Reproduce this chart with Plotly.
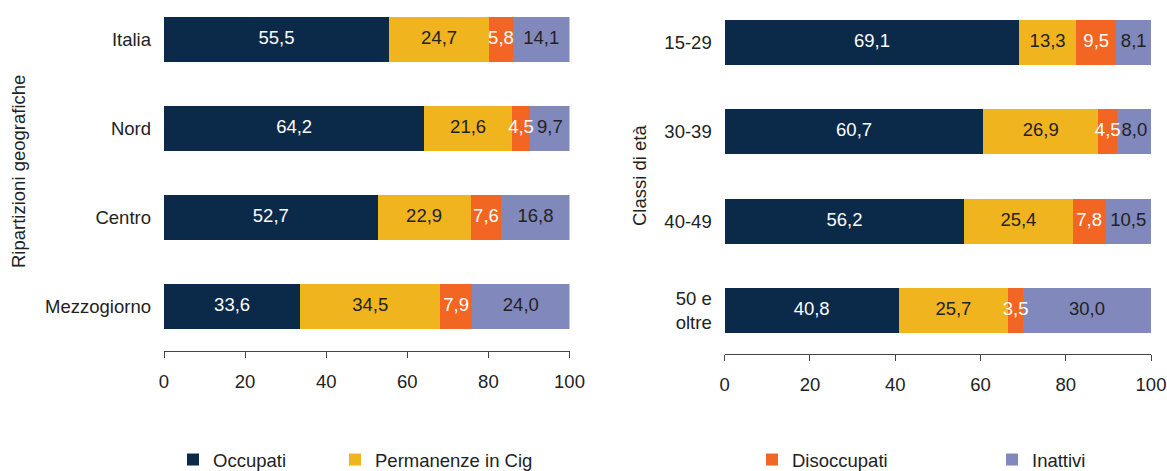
import plotly.graph_objects as go

# ---- data ----
series_names = ["Occupati", "Permanenze in Cig", "Disoccupati", "Inattivi"]
series_colors = ["#0b2949", "#f0b41f", "#f26522", "#8188bb"]
text_colors = ["#ffffff", "#222222", "#ffffff", "#222222"]

regions = ["Italia", "Nord", "Centro", "Mezzogiorno"]
region_occupati = [55.5, 64.2, 52.7, 33.6]
region_cig = [24.7, 21.6, 22.9, 34.5]
region_disoccupati = [5.8, 4.5, 7.6, 7.9]
region_inattivi = [14.1, 9.7, 16.8, 24.0]

ages = ["15-29", "30-39", "40-49", "50 e<br>oltre"]
age_occupati = [69.1, 60.7, 56.2, 40.8]
age_cig = [13.3, 26.9, 25.4, 25.7]
age_disoccupati = [9.5, 4.5, 7.8, 3.5]
age_inattivi = [8.1, 8.0, 10.5, 30.0]

x_ticks = [0, 20, 40, 60, 80, 100]

region_series = [region_occupati, region_cig, region_disoccupati, region_inattivi]
age_series = [age_occupati, age_cig, age_disoccupati, age_inattivi]


def fmt(v):
    return f"{v:.1f}".replace(".", ",")


FONT = "Liberation Sans, Arial, sans-serif"
FS = 18.5
TXT = "#222222"
W, H = 1167, 471


def px(x):  # pixel -> paper fraction
    return x / W


def py(y):
    return 1 - y / H


fig = go.Figure()

legend_ids = ["legend", "legend2", "legend3", "legend4"]
legend_px = [173, 335, 752, 992]


def add_panel(cats, series, xa, ya, show_legend):
    # bars
    for i, name in enumerate(series_names):
        fig.add_trace(go.Bar(
            y=cats, x=series[i], orientation="h", name=name,
            marker=dict(color=series_colors[i], line=dict(width=0)),
            xaxis=xa, yaxis=ya, showlegend=show_legend,
            legend=legend_ids[i], legendgroup=name, hoverinfo="x+y+name",
        ))
    # value labels on top of all bars (midpoint of each stacked segment)
    base = [0.0] * len(cats)
    for i, name in enumerate(series_names):
        mids = [b + v / 2 for b, v in zip(base, series[i])]
        base = [b + v for b, v in zip(base, series[i])]
        fig.add_trace(go.Scatter(
            y=cats, x=mids, mode="text",
            text=[fmt(v) for v in series[i]],
            textposition="middle center",
            textfont=dict(color=text_colors[i], family=FONT, size=FS),
            xaxis=xa, yaxis=ya, showlegend=False, hoverinfo="skip",
            cliponaxis=False,
        ))


add_panel(regions, region_series, "x", "y", True)
add_panel(ages, age_series, "x2", "y2", False)

xcommon = dict(
    range=[0, 100], tickvals=x_ticks, ticktext=[str(t) for t in x_ticks],
    showline=True, linecolor="#444444", linewidth=1,
    ticks="outside", ticklen=6, tickcolor="#444444", tickwidth=1,
    showgrid=False, zeroline=False, fixedrange=True, automargin=False,
    tickfont=dict(family=FONT, size=FS, color=TXT),
    ticklabelstandoff=8,
)
ycommon = dict(
    type="category",
    showline=False, showgrid=False, zeroline=False, ticks="",
    tickfont=dict(family=FONT, size=FS, color=TXT), automargin=False,
    ticklabelstandoff=12, fixedrange=True,
)

legends = {}
for lid, lx in zip(legend_ids, legend_px):
    legends[lid] = dict(
        orientation="h", x=px(lx), xanchor="left",
        y=py(441), yanchor="top",
        font=dict(family=FONT, size=FS, color=TXT),
        bgcolor="rgba(0,0,0,0)", borderwidth=0,
    )

fig.update_layout(
    width=W, height=H,
    margin=dict(l=0, r=0, t=0, b=0, pad=0, autoexpand=False),
    paper_bgcolor="white", plot_bgcolor="white",
    barmode="stack", bargap=0.494,
    font=dict(family=FONT, size=FS, color=TXT),
    xaxis=dict(domain=[px(164), px(569.5)], anchor="y", **xcommon),
    yaxis=dict(domain=[py(351), 1], anchor="x",
               range=[3.5, -0.444], **ycommon),
    xaxis2=dict(domain=[px(724.7), px(1151)], anchor="y2", **xcommon),
    yaxis2=dict(domain=[py(354), 1], anchor="x2",
                range=[3.488, -0.476], **ycommon),
    annotations=[
        dict(text="Ripartizioni geografiche", textangle=-90,
             x=px(19), y=py(172), xref="paper", yref="paper",
             xanchor="center", yanchor="middle",
             showarrow=False, font=dict(family=FONT, size=FS, color=TXT)),
        dict(text="Classi di età", textangle=-90,
             x=px(640), y=py(176), xref="paper", yref="paper",
             xanchor="center", yanchor="middle",
             showarrow=False, font=dict(family=FONT, size=FS, color=TXT)),
    ],
    **legends,
)

fig.write_html(
    "out.html",
    config={"displayModeBar": False},
    post_script=(
        "document.body.style.margin='0';"
        "document.body.style.overflow='hidden';"
        "document.documentElement.style.overflow='hidden';"
    ),
)
